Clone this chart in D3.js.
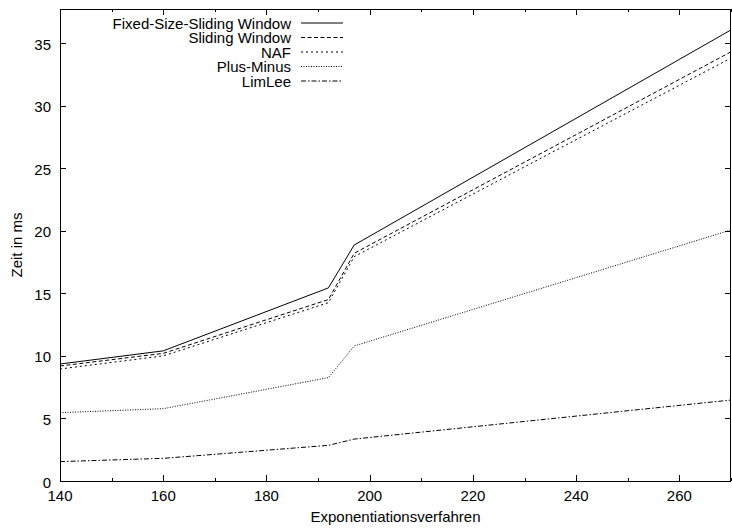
<!DOCTYPE html>
<html>
<head>
<meta charset="utf-8">
<script src="https://cdn.jsdelivr.net/npm/d3@7"></script>
<style>
  body { margin: 0; background: #fff; }
  svg text { font-family: "Liberation Sans", Arial, sans-serif; font-size: 15px; fill: #000; }
</style>
</head>
<body>
<div class="visHolder"></div>
<script>
const w = 732, h = 529;
const padLeft = 60, padRight = 731, padTop = 9, padBottom = 481;

// data
const xValues = [140, 160, 192, 197, 270];
const fixedSize = [9.35, 10.4, 15.43, 18.86, 36.05];
const sliding = [9.19, 10.2, 14.5, 18.2, 34.3];
const naf = [8.95, 10.0, 14.25, 17.93, 33.8];
const plusMinus = [5.46, 5.78, 8.26, 10.79, 20.06];
const limLee = [1.55, 1.81, 2.85, 3.35, 6.47];

const seriesNames = ["Fixed-Size-Sliding Window", "Sliding Window", "NAF", "Plus-Minus", "LimLee"];
const dashes = [null, "4,2.5", "2,3", "1,1.5", "5,2,1.5,2"];
const xTicks = [140, 160, 180, 200, 220, 240, 260];
const xMinor = [150, 170, 190, 210, 230, 250, 270];
const yTicks = [0, 5, 10, 15, 20, 25, 30, 35];

const series = [fixedSize, sliding, naf, plusMinus, limLee];

const svg = d3.select(".visHolder")
  .append("svg")
  .attr("width", w)
  .attr("height", h);

const xScale = d3.scaleLinear().domain([140, 270]).range([padLeft, padRight]);
const yScale = d3.scaleLinear().domain([0, 37.72]).range([padBottom, padTop]);

// ticks, inward, mirrored
const g = svg.append("g").attr("stroke", "#000").attr("stroke-width", 1);
xTicks.forEach(v => {
  const x = Math.round(xScale(v)) + 0.5;
  g.append("line").attr("x1", x).attr("x2", x).attr("y1", padBottom).attr("y2", padBottom - 6);
  g.append("line").attr("x1", x).attr("x2", x).attr("y1", padTop).attr("y2", padTop + 6);
});
xMinor.forEach(v => {
  const x = Math.round(xScale(v)) + 0.5;
  g.append("line").attr("x1", x).attr("x2", x).attr("y1", padBottom).attr("y2", padBottom - 3);
  g.append("line").attr("x1", x).attr("x2", x).attr("y1", padTop).attr("y2", padTop + 3);
});
yTicks.forEach(v => {
  const y = Math.round(yScale(v)) + 0.5;
  g.append("line").attr("x1", padLeft).attr("x2", padLeft + 6).attr("y1", y).attr("y2", y);
  g.append("line").attr("x1", padRight).attr("x2", padRight - 6).attr("y1", y).attr("y2", y);
});

// tick labels
svg.selectAll(".xl").data(xTicks).enter().append("text")
  .attr("x", d => xScale(d))
  .attr("y", 501)
  .attr("text-anchor", "middle")
  .text(d => d);

svg.selectAll(".yl").data(yTicks).enter().append("text")
  .attr("x", 51)
  .attr("y", d => yScale(d) + 6.5)
  .attr("text-anchor", "end")
  .text(d => d);

// titles
svg.append("text")
  .attr("transform", "translate(22," + ((padTop + padBottom) / 2) + ") rotate(-90)")
  .attr("text-anchor", "middle")
  .text("Zeit in ms");

svg.append("text")
  .attr("x", (padLeft + padRight) / 2)
  .attr("y", 522)
  .attr("text-anchor", "middle")
  .text("Exponentiationsverfahren");

// lines
const line = d3.line()
  .x((d, i) => xScale(xValues[i]))
  .y(d => yScale(d));

series.forEach((s, i) => {
  svg.append("path")
    .datum(s)
    .attr("d", line)
    .attr("fill", "none")
    .attr("stroke", "#000")
    .attr("stroke-width", 1)
    .attr("stroke-dasharray", dashes[i]);
});

// legend
seriesNames.forEach((name, i) => {
  const y = 23 + i * 14.5;
  svg.append("text")
    .attr("x", 291)
    .attr("y", y + 5.5)
    .attr("text-anchor", "end")
    .text(name);
  svg.append("line")
    .attr("x1", 301).attr("x2", 343)
    .attr("y1", y).attr("y2", y)
    .attr("stroke", "#000")
    .attr("stroke-width", 1)
    .attr("stroke-dasharray", dashes[i]);
});

// frame
svg.append("rect")
  .attr("x", padLeft + 0.5).attr("y", padTop + 0.5)
  .attr("width", padRight - padLeft - 1).attr("height", padBottom - padTop)
  .attr("fill", "none")
  .attr("stroke", "#000")
  .attr("stroke-width", 1);
</script>
</body>
</html>
